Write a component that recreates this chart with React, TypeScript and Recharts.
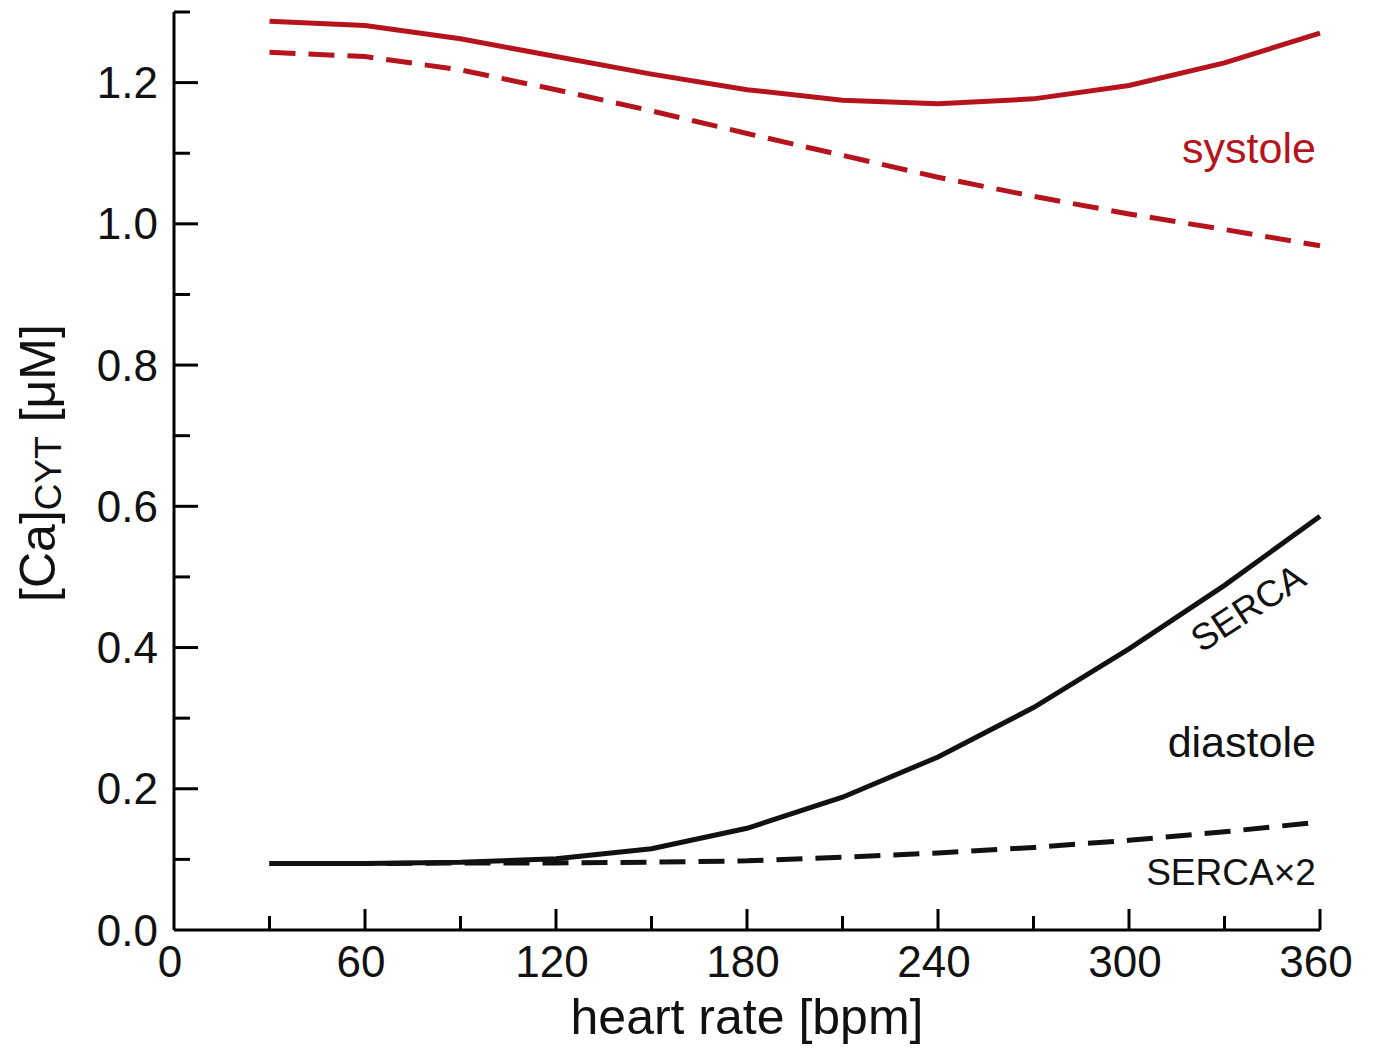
import { LineChart, Line, XAxis, YAxis, ReferenceDot } from "recharts";

const heartRate = [30, 60, 90, 120, 150, 180, 210, 240, 270, 300, 330, 360];
const systoleSerca = [1.287, 1.281, 1.262, 1.237, 1.212, 1.19, 1.175, 1.17, 1.177, 1.196, 1.228, 1.27];
const systoleSerca2 = [1.243, 1.237, 1.218, 1.19, 1.16, 1.128, 1.097, 1.066, 1.039, 1.014, 0.992, 0.969];
const diastoleSerca = [0.094, 0.094, 0.096, 0.101, 0.115, 0.144, 0.188, 0.245, 0.315, 0.398, 0.488, 0.586];
const diastoleSerca2 = [0.094, 0.094, 0.095, 0.095, 0.096, 0.098, 0.103, 0.109, 0.117, 0.127, 0.139, 0.153];

const xTicks = [0, 30, 60, 90, 120, 150, 180, 210, 240, 270, 300, 330, 360];
const yTicks = [0, 0.1, 0.2, 0.3, 0.4, 0.5, 0.6, 0.7, 0.8, 0.9, 1.0, 1.1, 1.2, 1.3];

const annotations = [
  { x: 358.7, y: 1.086, text: "systole", color: "#b5141c", size: 43, angle: 0, anchor: "end", baseline: "alphabetic" },
  { x: 358.7, y: 0.245, text: "diastole", color: "#111", size: 43, angle: 0, anchor: "end", baseline: "alphabetic" },
  { x: 358.7, y: 0.064, text: "SERCA×2", color: "#111", size: 37, angle: 0, anchor: "end", baseline: "alphabetic" },
  { x: 337.4, y: 0.456, text: "SERCA", color: "#111", size: 37, angle: -33, anchor: "middle", baseline: "central" },
];

const data = heartRate.map((hr, i) => ({
  hr,
  sysA: systoleSerca[i],
  sysB: systoleSerca2[i],
  diaA: diastoleSerca[i],
  diaB: diastoleSerca2[i],
}));

const RED = "#b5141c";
const FONT = "'Liberation Sans', Arial, sans-serif";

function XTick({ x, y, payload }: any) {
  const v = payload.value;
  const major = v % 60 === 0;
  return (
    <g>
      {v !== 0 && <line x1={x} y1={y} x2={x} y2={y - (major ? 21 : 14)} stroke="#000" strokeWidth={3} />}
      {major && (
        <text x={x - 4} y={y + 31} textAnchor="middle" dominantBaseline="central" fontSize={44} fontFamily={FONT} fill="#111">
          {v}
        </text>
      )}
    </g>
  );
}

function YTick({ x, y, payload }: any) {
  const v = payload.value;
  const major = Math.round(v * 10) % 2 === 0;
  return (
    <g>
      {v !== 0 && <line x1={x} y1={y} x2={x + (major ? 24 : 16)} y2={y} stroke="#000" strokeWidth={3} />}
      {major && (
        <text x={x - 16} y={y} textAnchor="end" dominantBaseline="central" fontSize={44} fontFamily={FONT} fill="#111">
          {v.toFixed(1)}
        </text>
      )}
    </g>
  );
}

function XLabel({ viewBox }: any) {
  const { x, y, width } = viewBox;
  return (
    <text x={x + width / 2} y={y + 104} textAnchor="middle" fontSize={50} fontFamily={FONT} fill="#111">
      heart rate [bpm]
    </text>
  );
}

function YLabel({ viewBox }: any) {
  const cx = 38;
  const cy = viewBox.y + viewBox.height / 2 - 8;
  return (
    <text
      x={cx}
      y={cy}
      transform={`rotate(-90, ${cx}, ${cy})`}
      textAnchor="middle"
      dominantBaseline="central"
      fontSize={50}
      fontFamily={FONT}
      fill="#111"
    >
      [Ca]
      <tspan fontSize={37} dy={10}>CYT</tspan>
      <tspan dy={-10}> [μM]</tspan>
    </text>
  );
}

function AnnoLabel({ viewBox, a }: any) {
  const x = viewBox.x + (viewBox.width || 0) / 2;
  const y = viewBox.y + (viewBox.height || 0) / 2;
  return (
    <text
      x={x}
      y={y}
      transform={a.angle ? `rotate(${a.angle}, ${x}, ${y})` : undefined}
      textAnchor={a.anchor}
      dominantBaseline={a.baseline}
      fontSize={a.size}
      fontFamily={FONT}
      fill={a.color}
    >
      {a.text}
    </text>
  );
}

export default function App() {
  return (
    <div style={{ width: 1376, height: 1048, background: "#fff" }}>
      <style>{"body{margin:0}"}</style>
      <LineChart width={1376} height={1048} data={data} margin={{ top: 12, right: 56, bottom: 0, left: 0 }}>
        <XAxis
          dataKey="hr"
          type="number"
          domain={[0, 360]}
          ticks={xTicks}
          interval={0}
          height={118}
          tickSize={0}
          tickMargin={0}
          tickLine={false}
          axisLine={{ stroke: "#000", strokeWidth: 3 }}
          tick={<XTick />}
          label={<XLabel />}
        />
        <YAxis
          type="number"
          domain={[0, 1.3]}
          ticks={yTicks}
          interval={0}
          width={174}
          tickSize={0}
          tickMargin={0}
          tickLine={false}
          axisLine={{ stroke: "#000", strokeWidth: 3 }}
          tick={<YTick />}
          label={<YLabel />}
        />
        <Line type="linear" dataKey="sysA" stroke={RED} strokeWidth={5} dot={false} isAnimationActive={false} />
        <Line type="linear" dataKey="sysB" stroke={RED} strokeWidth={5} strokeDasharray="26 13" dot={false} isAnimationActive={false} />
        <Line type="linear" dataKey="diaA" stroke="#111" strokeWidth={5} dot={false} isAnimationActive={false} />
        <Line type="linear" dataKey="diaB" stroke="#111" strokeWidth={5} strokeDasharray="26 13" dot={false} isAnimationActive={false} />
        {annotations.map((a) => (
          <ReferenceDot key={a.text} x={a.x} y={a.y} r={0} stroke="none" fill="none" ifOverflow="visible" label={<AnnoLabel a={a} />} />
        ))}
      </LineChart>
    </div>
  );
}
